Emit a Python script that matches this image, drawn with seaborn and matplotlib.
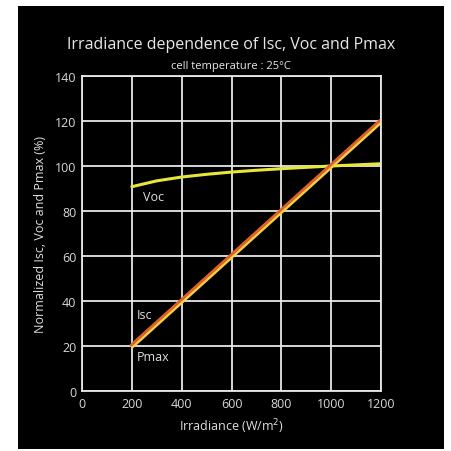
import matplotlib
matplotlib.use("Agg")
import matplotlib.pyplot as plt
from matplotlib.patches import Rectangle
import matplotlib.transforms as mtransforms
import seaborn as sns
import pandas as pd

# curve data
irradiance = [200, 300, 400, 500, 600, 700, 800, 900, 1000, 1100, 1200]
isc = [20, 30, 40, 50, 60, 70, 80, 90, 100, 110, 120]
pmax = [20, 30, 40, 50, 60, 70, 80, 90, 100, 110, 120]
voc = [90.8, 93.4, 95.1, 96.3, 97.3, 98.1, 98.8, 99.4, 100.0, 100.5, 101.0]

x_ticks = [0, 200, 400, 600, 800, 1000, 1200]
y_ticks = [0, 20, 40, 60, 80, 100, 120, 140]

df = pd.DataFrame({"Irradiance": irradiance, "Isc": isc, "Pmax": pmax, "Voc": voc})

sns.set_style("dark")
plt.rcParams['font.family'] = ['Open Sans', 'DejaVu Sans']

fig = plt.figure(figsize=(4.52, 4.52), dpi=100, facecolor="white")
fig.patches.append(Rectangle((18 / 452, 2 / 452), 426 / 452, 443 / 452,
                             transform=fig.transFigure, facecolor="black",
                             edgecolor="none", zorder=-5))
ax = fig.add_axes([82 / 452, 60 / 452, 299 / 452, 315 / 452])
ax.set_facecolor("black")

sns.lineplot(data=df, x="Irradiance", y="Voc", ax=ax, color="#e6e63c", linewidth=2.2)
sns.lineplot(data=df, x="Irradiance", y="Pmax", ax=ax, color="#f5d040", linewidth=2.0)
sns.lineplot(data=df, x="Irradiance", y="Isc", ax=ax, color="#e0602c", linewidth=2.0)

# the two coincident lines sit side by side in the original
pmax_line, isc_line = ax.lines[1], ax.lines[2]
pmax_line.set_transform(ax.transData + mtransforms.ScaledTranslation(0.6 / 72, -0.6 / 72, fig.dpi_scale_trans))
isc_line.set_transform(ax.transData + mtransforms.ScaledTranslation(-0.6 / 72, 0.6 / 72, fig.dpi_scale_trans))

ax.set_xlim(0, 1200)
ax.set_ylim(0, 140)
ax.set_xticks(x_ticks)
ax.set_yticks(y_ticks)
ax.grid(True, color="#e8e8e8", linewidth=1.3)
ax.set_axisbelow(True)
for s in ax.spines.values():
    s.set_color("#e8e8e8")
    s.set_linewidth(1.3)
ax.tick_params(colors="#d8d8d8", labelsize=9, length=0, pad=4)

ax.set_xlabel("Irradiance (W/m$^2$)", color="#e0e0e0", fontsize=9, labelpad=5)
ax.set_ylabel("Normalized Isc, Voc and Pmax (%)", color="#e0e0e0", fontsize=9, labelpad=6)

ax.text(245, 86.5, "Voc", color="#e0e0e0", fontsize=9, va="center")
ax.text(220, 34, "Isc", color="#e0e0e0", fontsize=9, va="center")
ax.text(220, 15.5, "Pmax", color="#e0e0e0", fontsize=9, va="center")

fig.text(231 / 452, 1 - 45 / 452, "Irradiance dependence of Isc, Voc and Pmax",
         color="#e8e8e8", fontsize=11.5, ha="center", va="center")
fig.text(231 / 452, 1 - 66 / 452, "cell temperature : 25°C",
         color="#e8e8e8", fontsize=8, ha="center", va="center")

fig.savefig("out.png", dpi=100, facecolor="white")
